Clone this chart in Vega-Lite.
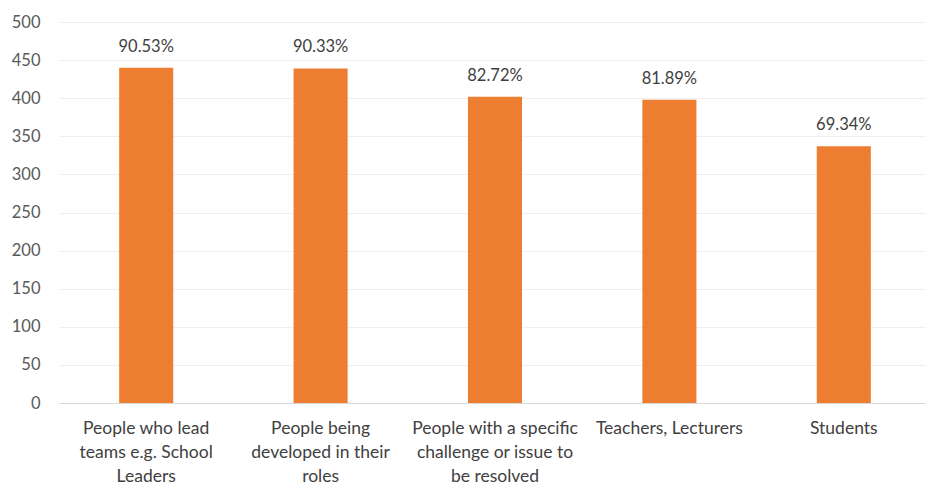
{
  "$schema": "https://vega.github.io/schema/vega-lite/v6.json",
  "width": 872,
  "height": 381,
  "autosize": {"type": "none"},
  "padding": {"left": 59, "top": 22, "right": 0, "bottom": 81},
  "background": "white",
  "data": {
    "values": [
      {"category": "People who lead teams e.g. School Leaders", "count": 440, "pct": "90.53%"},
      {"category": "People being developed in their roles", "count": 439, "pct": "90.33%"},
      {"category": "People with a specific challenge or issue to be resolved", "count": 402, "pct": "82.72%"},
      {"category": "Teachers, Lecturers", "count": 398, "pct": "81.89%"},
      {"category": "Students", "count": 337, "pct": "69.34%"}
    ]
  },
  "config": {
    "view": {"stroke": null},
    "font": "Lato"
  },
  "encoding": {
    "x": {
      "field": "category",
      "type": "nominal",
      "sort": null,
      "scale": {"paddingInner": 0.69, "paddingOuter": 0.345},
      "axis": {
        "title": null,
        "labelAngle": 0,
        "labelFont": "Lato",
        "labelFontSize": 17.5,
        "labelColor": "#404040",
        "labelLineHeight": 24,
        "labelPadding": 16,
        "labelBaseline": "top",
        "labelLimit": 300,
        "ticks": false,
        "domainColor": "#d9d9d9",
        "domainWidth": 1,
        "grid": false,
        "labelExpr": "datum.value == 'People who lead teams e.g. School Leaders' ? ['People who lead', 'teams e.g. School', 'Leaders'] : datum.value == 'People being developed in their roles' ? ['People being', 'developed in their', 'roles'] : datum.value == 'People with a specific challenge or issue to be resolved' ? ['People with a specific', 'challenge or issue to', 'be resolved'] : datum.value"
      }
    },
    "y": {
      "field": "count",
      "type": "quantitative",
      "scale": {"domain": [0, 500], "nice": false},
      "axis": {
        "title": null,
        "values": [0, 50, 100, 150, 200, 250, 300, 350, 400, 450, 500],
        "labelFont": "Lato",
        "labelFontSize": 16.5,
        "labelColor": "#595959",
        "labelPadding": 19,
        "ticks": false,
        "domain": false,
        "gridColor": "#efefef",
        "gridWidth": 1
      }
    }
  },
  "layer": [
    {
      "mark": {"type": "bar", "color": "#ED7D31"}
    },
    {
      "mark": {"type": "text", "baseline": "alphabetic", "dy": -16, "fontSize": 16.5, "font": "Lato", "color": "#404040"},
      "encoding": {"text": {"field": "pct", "type": "nominal"}}
    }
  ]
}
